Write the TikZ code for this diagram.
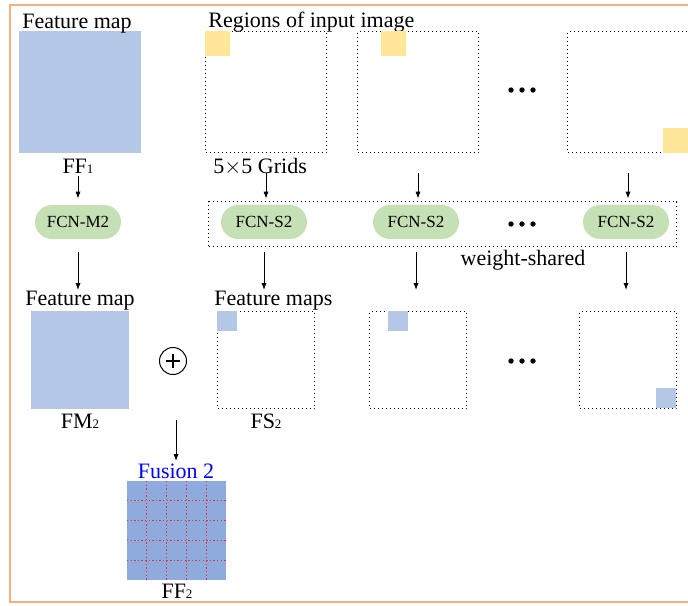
\documentclass[tikz,border=0pt]{standalone}
\usepackage{fontspec}
\setmainfont{Liberation Serif}
\usetikzlibrary{arrows.meta,positioning}
\definecolor{mapblue}{RGB}{180,199,231}
\definecolor{fuseblue}{RGB}{143,170,220}
\definecolor{patchyellow}{RGB}{255,230,153}
\definecolor{fcngreen}{RGB}{197,224,180}
\definecolor{frameorange}{RGB}{244,177,131}
\definecolor{gridred}{RGB}{232,50,60}
\newcommand{\lowidx}[1]{{\fontsize{6.5}{6.5}\selectfont #1}}
\begin{document}
\begin{tikzpicture}[x=0.5pt,y=-0.5pt,
  lbl/.style={font=\fontsize{11}{13}\selectfont,inner sep=0pt,anchor=base},
  bigmap/.style={fill=#1,inner sep=0pt,anchor=north west},
  region/.style={draw,dash pattern=on 0.5pt off 1.5pt,line width=0.5pt,inner sep=0pt,minimum size=#1,anchor=north west},
  patch/.style={fill=#1,inner sep=0pt,anchor=north west},
  fcn/.style={fill=fcngreen,rounded corners=8.5pt,minimum width=43pt,minimum height=17pt,inner sep=0pt,font=\fontsize{8.5}{10}\selectfont},
  arr/.style={-{Latex[length=3.5pt,width=2.6pt]},line width=0.5pt}]
 \useasboundingbox (0,0) rectangle (688,605);
 \draw[frameorange,line width=0.6pt] (700,5) -- (10,5) -- (10,602) -- (700,602);
 % top row: feature map and regions
 \node[bigmap=mapblue,minimum size=61pt] (ff1map) at (19,31) {};
 \node[lbl] (fmtop) at (77,28) {Feature map};
 \node[lbl] (ff1) at (78,173) {FF\lowidx{1}};
 \node[lbl,anchor=base west] (regions) at (208,27) {Regions of input image};
 \node[region=60.5pt] (r1) at (205,31) {};
 \node[region=60.5pt] (r2) at (357,31) {};
 \node[region=60.5pt] (r3) at (567,31) {};
 \node[patch=patchyellow,minimum size=12.5pt] (p1) at (205,31) {};
 \node[patch=patchyellow,minimum size=12.5pt] (p2) at (381,31) {};
 \node[patch=patchyellow,minimum size=12.5pt] (p3) at (663,128) {};
 \node[lbl,anchor=base west] (grids) at (213,173) {5$\times$5 Grids};
 \foreach \y in {90,224,361}
  \foreach \x in {511,522,533}
   \fill (\x,\y) circle (1.35pt);
 % fcn row
 \node[region=10pt,minimum width=234pt,minimum height=22.5pt] (shared) at (208,201) {};
 \node[fcn] (m2) at (78,222) {FCN-M2};
 \node[fcn] (s2a) at (264,222) {FCN-S2};
 \node[fcn] (s2b) at (416,222) {FCN-S2};
 \node[fcn] (s2c) at (626,222) {FCN-S2};
 \node[lbl] (wshared) at (523,265) {weight-shared};
 \draw[arr,shorten <=1.5pt,shorten >=3pt] (ff1) -- (m2);
 \draw[arr,shorten <=10pt,shorten >=3pt] (r1.south) -- (r1.south |- s2a.north);
 \draw[arr,shorten <=10pt,shorten >=3pt] (r2.south) -- (r2.south |- s2b.north);
 \draw[arr,shorten <=10pt,shorten >=3pt] (r3.south) -- (r3.south |- s2c.north);
 % third row
 \node[bigmap=mapblue,minimum size=49pt] (fm2) at (31,311) {};
 \node[lbl] (fmmid) at (80,305) {Feature map};
 \node[lbl] (fm2lbl) at (80,428) {FM\lowidx{2}};
 \node[region=48.5pt] (fs2a) at (217,311) {};
 \node[region=48.5pt] (fs2b) at (369,311) {};
 \node[region=48.5pt] (fs2c) at (579,311) {};
 \node[patch=mapblue,minimum size=10pt] (q1) at (217,311) {};
 \node[patch=mapblue,minimum size=10pt] (q2) at (388,311) {};
 \node[patch=mapblue,minimum size=10pt] (q3) at (656,388) {};
 \node[lbl,anchor=base west] (fmaps) at (214,305) {Feature maps};
 \node[lbl] (fs2lbl) at (266,428) {FS\lowidx{2}};
 \draw[arr,shorten <=6.5pt,shorten >=10.5pt] (m2.south) -- (m2.south |- fm2.north);
 \draw[arr,shorten <=6.5pt,shorten >=10.5pt] (s2a.south) -- (s2a.south |- fs2a.north);
 \draw[arr,shorten <=6.5pt,shorten >=10.5pt] (s2b.south) -- (s2b.south |- fs2b.north);
 \draw[arr,shorten <=6.5pt,shorten >=10.5pt] (s2c.south) -- (s2c.south |- fs2c.north);
 \node[circle,draw,line width=0.5pt,minimum size=13.5pt,inner sep=0pt] (plus) at (173,361) {};
 \draw[line width=0.6pt] ([xshift=-3.5pt]plus.center) -- ([xshift=3.5pt]plus.center);
 \draw[line width=0.6pt] ([yshift=-3.5pt]plus.center) -- ([yshift=3.5pt]plus.center);
 % fusion
 \node[bigmap=fuseblue,minimum size=49.5pt] (ff2) at (127,481) {};
 \foreach \i in {1,...,4} {
  \draw[gridred,dash pattern=on 0.7pt off 1.1pt,line width=0.6pt] (127+\i*19.8,481) -- (127+\i*19.8,580);
  \draw[gridred,dash pattern=on 0.7pt off 1.1pt,line width=0.6pt] (127,481+\i*19.8) -- (226,481+\i*19.8);
 }
 \node[lbl,text=blue] (fusion) at (176,478) {Fusion 2};
 \node[lbl] (ff2lbl) at (177,598) {FF\lowidx{2}};
 \coordinate (fuse) at (176,420);
 \draw[arr,shorten >=10pt] (fuse) -- (fuse |- ff2.north);
\end{tikzpicture}
\end{document}
